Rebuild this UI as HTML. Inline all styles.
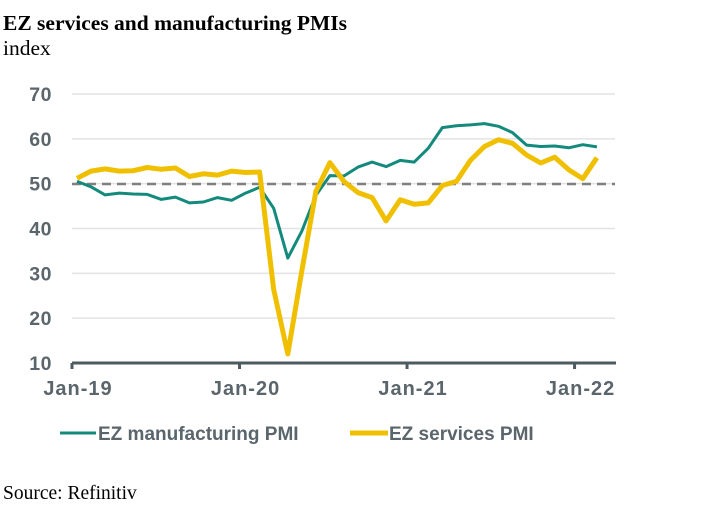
<!DOCTYPE html>
<html><head><meta charset="utf-8"><style>
body{margin:0;background:#fff;}
svg{display:block;}
.t{font-family:"Liberation Serif",serif;fill:#000;}
.ax{font-family:"Liberation Sans",sans-serif;font-weight:bold;fill:#5b656c;}
</style></head><body>
<svg id="chart" width="705" height="516" viewBox="0 0 705 516">
<text class="t" x="3" y="30" font-size="21.5" font-weight="bold">EZ services and manufacturing PMIs</text>
<text class="t" x="3" y="55" font-size="21.5">index</text>
<g id="grid"></g>
<g id="yticks"></g>
<line x1="72" x2="615" y1="184" y2="184" stroke="#7f7f7f" stroke-width="2.5" stroke-dasharray="9,6"/>
<g id="series"></g>
<line x1="72" x2="616" y1="363" y2="363" stroke="#4d5a60" stroke-width="3"/>
<g id="xticks"></g>
<g>
<line x1="60" x2="96" y1="433" y2="433" stroke="#138a7c" stroke-width="3"/>
<text class="ax" x="98" y="440" style="font-size:19px">EZ manufacturing PMI</text>
<line x1="350" x2="388" y1="433" y2="433" stroke="#f0c000" stroke-width="5"/>
<text class="ax" x="389" y="440" style="font-size:19px">EZ services PMI</text>
</g>
<text class="t" x="3" y="499" font-size="19.5">Source: Refinitiv</text>
</svg>
<script>
const yTicks=[10,20,30,40,50,60,70];
const xTickLabels=["Jan-19","Jan-20","Jan-21","Jan-22"];
const xTickMonths=[0,12,24,36];
const manufacturing=[50.5,49.3,47.5,47.9,47.7,47.6,46.5,47.0,45.7,45.9,46.9,46.3,47.9,49.2,44.5,33.4,39.4,47.4,51.8,51.7,53.7,54.8,53.8,55.2,54.8,57.9,62.5,62.9,63.1,63.4,62.8,61.4,58.6,58.3,58.4,58.0,58.7,58.2];
const services=[51.2,52.8,53.3,52.8,52.9,53.6,53.2,53.5,51.6,52.2,51.9,52.8,52.5,52.6,26.4,12.0,30.5,48.3,54.7,50.5,48.0,46.9,41.7,46.4,45.4,45.7,49.6,50.5,55.2,58.3,59.8,59.0,56.4,54.6,55.9,53.1,51.1,55.8];
const NS="http://www.w3.org/2000/svg";
function y(v){return 363-(v-10)*(269/60);}
function xTick(m){return 72+m*13.96;}
function xPt(i){return 77+i*14.05;}
const grid=document.getElementById('grid'),yt=document.getElementById('yticks'),xt=document.getElementById('xticks'),ser=document.getElementById('series');
yTicks.forEach(v=>{
 if(v>10){const l=document.createElementNS(NS,'line');
 l.setAttribute('x1',72);l.setAttribute('x2',615);l.setAttribute('y1',y(v));l.setAttribute('y2',y(v));
 l.setAttribute('stroke','#e3e3e3');l.setAttribute('stroke-width','1.5');
 
 
 grid.appendChild(l);}
 const t=document.createElementNS(NS,'text');
 t.setAttribute('x',52);t.setAttribute('y',y(v)+7);t.setAttribute('text-anchor','end');t.setAttribute('class','ax');
 t.setAttribute('style','font-size:19.5px;letter-spacing:0.5px');
 t.textContent=v;
 
 
 yt.appendChild(t);
});
xTickLabels.forEach((lab,k)=>{
 const x=xTick(xTickMonths[k]);
 const l=document.createElementNS(NS,'line');
 l.setAttribute('x1',x);l.setAttribute('x2',x);l.setAttribute('y1',363);l.setAttribute('y2',369);
 l.setAttribute('stroke','#4d5a60');l.setAttribute('stroke-width','3');
 
 
 xt.appendChild(l);
 const t=document.createElementNS(NS,'text');
 t.setAttribute('x',x+6);t.setAttribute('y',395);t.setAttribute('text-anchor','middle');t.setAttribute('class','ax');
 t.setAttribute('style','font-size:20px;letter-spacing:1px');
 t.textContent=lab;
 
 
 xt.appendChild(t);
});
function line(data,color,w,name){
 const p=document.createElementNS(NS,'polyline');
 p.setAttribute('points',data.map((v,i)=>xPt(i).toFixed(1)+','+y(v).toFixed(1)).join(' '));
 p.setAttribute('fill','none');p.setAttribute('stroke',color);p.setAttribute('stroke-width',w);p.setAttribute('stroke-linejoin','round');
 
 
 ser.appendChild(p);
}
line(manufacturing,'#138a7c',3,'manufacturing-pmi-line');
line(services,'#f0c000',5,'services-pmi-line');
</script>
</body></html>
